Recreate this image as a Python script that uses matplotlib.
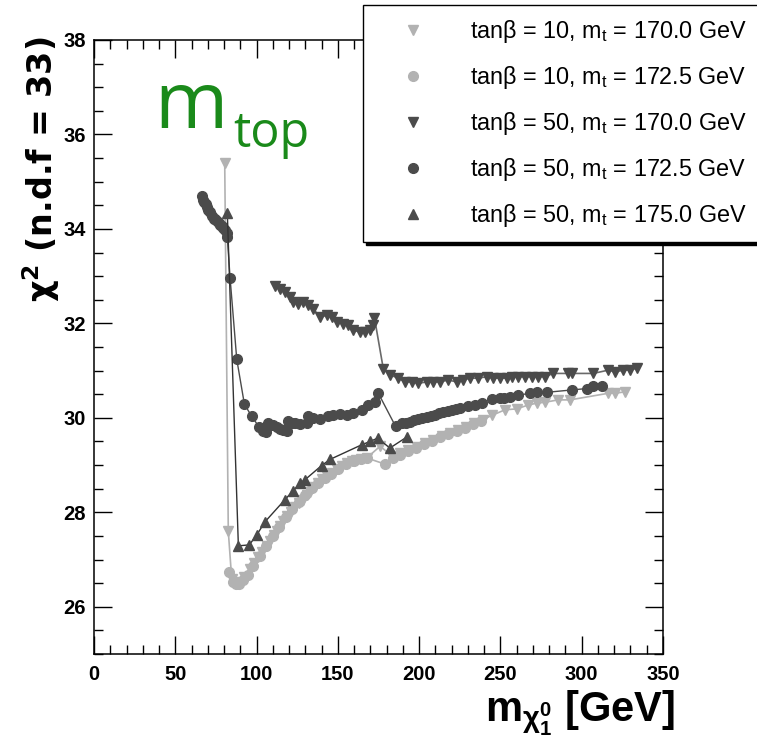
import numpy as np
import matplotlib
matplotlib.use("Agg")
import matplotlib.pyplot as plt
from matplotlib.ticker import MultipleLocator

plt.rcParams['font.family'] = ['Liberation Sans', 'DejaVu Sans']
plt.rcParams['mathtext.fontset'] = 'custom'
plt.rcParams['mathtext.rm'] = 'Liberation Sans'

# tan(beta)=10, mt=170.0
x_10_170 = [80.4, 82.6, 84.7, 87.0, 89.5, 92.5, 96.0, 98.5, 100.9, 103.5, 106.4, 108.5, 110.7, 112.5,
            114.4, 116.5, 118.7, 121.0, 123.6, 126.0, 128.6, 130.8, 132.9, 135.3, 137.8, 140.5,
            143.3, 146.5, 149.5, 152.5, 155.6, 158.5, 161.0, 164.5, 167.8, 176.0, 183.0, 188.0,
            193.0, 198.5, 203.5, 208.6, 214.0, 219.0, 224.0, 229.0, 234.0, 239.0, 244.6, 252.8,
            260.0, 267.0, 272.3, 277.4, 285.5, 292.8, 316.4, 320.5, 326.6]
y_10_170 = [35.40, 27.60, 26.59, 26.50, 26.52, 26.62, 26.80, 26.92, 27.05, 27.16, 27.28, 27.40, 27.52, 27.61,
            27.71, 27.81, 27.92, 28.01, 28.11, 28.19, 28.27, 28.36, 28.44, 28.53, 28.63, 28.70,
            28.76, 28.84, 28.91, 28.98, 29.05, 29.08, 29.10, 29.13, 29.15, 29.40, 29.20, 29.25,
            29.32, 29.39, 29.47, 29.54, 29.61, 29.68, 29.75, 29.81, 29.89, 29.96, 30.05, 30.17,
            30.19, 30.27, 30.31, 30.33, 30.38, 30.38, 30.52, 30.52, 30.55]

# tan(beta)=10, mt=172.5
x_10_172 = [83.3, 85.5, 87.3, 89.0, 91.5, 94.5, 98.0, 102.0, 106.0, 110.0, 114.0, 118.0, 122.0,
            126.0, 130.0, 134.0, 138.0, 142.0, 146.0, 150.0, 155.0, 160.0, 164.0, 167.8, 179.0,
            184.0, 188.5, 193.0, 198.0, 203.0, 208.0, 213.0, 218.0, 223.0, 228.0, 233.0, 238.0]
y_10_172 = [26.74, 26.52, 26.48, 26.49, 26.56, 26.68, 26.86, 27.08, 27.28, 27.49, 27.69, 27.89, 28.06,
            28.22, 28.37, 28.51, 28.62, 28.72, 28.82, 28.92, 29.02, 29.08, 29.12, 29.15, 29.02,
            29.15, 29.22, 29.30, 29.37, 29.45, 29.52, 29.59, 29.66, 29.73, 29.79, 29.87, 29.94]

# tan(beta)=50, mt=170.0
x_50_170 = [111.3, 114.4, 117.5, 120.6, 122.6, 125.7, 128.7, 131.8, 134.9, 139.0, 143.1, 146.2, 149.3,
            153.4, 156.4, 159.5, 163.6, 166.7, 169.8, 171.5, 172.5, 178.0, 182.0, 187.2, 191.3, 195.4,
            199.5, 204.6, 208.7, 212.8, 217.9, 223.1, 227.2, 231.3, 236.4, 241.6, 245.6, 249.7, 253.9,
            257.0, 261.0, 265.1, 269.2, 273.3, 277.4, 282.5, 291.8, 293.8, 307.1, 316.4, 320.5, 325.6,
            329.7, 333.8]
y_50_170 = [32.80, 32.73, 32.66, 32.55, 32.45, 32.41, 32.45, 32.38, 32.31, 32.13, 32.17, 32.13, 32.03,
            31.99, 31.96, 31.85, 31.82, 31.82, 31.85, 31.96, 32.12, 31.03, 30.91, 30.84, 30.76, 30.76,
            30.73, 30.76, 30.76, 30.76, 30.80, 30.76, 30.80, 30.84, 30.84, 30.87, 30.84, 30.84, 30.84,
            30.87, 30.87, 30.87, 30.87, 30.87, 30.87, 30.94, 30.94, 30.94, 30.94, 31.01, 30.97, 31.01,
            31.01, 31.05]

# tan(beta)=50, mt=172.5
x_50_172 = [66.2, 67.0, 67.8, 68.6, 69.4, 70.3, 71.2, 72.4, 73.5, 74.5, 75.5, 76.6, 77.6, 78.6, 79.6,
            80.6, 81.6, 82.0, 83.7, 87.8, 92.5, 97.0, 101.7, 104.0, 105.6, 106.8, 108.5, 110.3, 112.5,
            114.4, 116.5, 118.5, 119.5, 121.5, 123.6, 127.0, 130.8, 131.8, 135.0, 139.0, 144.1, 147.0,
            151.3, 155.4, 159.5, 164.7, 168.7, 172.8, 174.9, 185.5, 189.3, 192.0, 194.4, 197.0, 199.5,
            202.0, 204.6, 207.0, 209.8, 212.5, 214.9, 217.5, 220.0, 222.5, 225.1, 230.2, 234.4, 238.5,
            244.6, 249.7, 252.5, 255.9, 261.0, 268.2, 272.3, 278.5, 293.8, 303.1, 307.1, 312.3]
y_50_172 = [34.69, 34.62, 34.57, 34.52, 34.47, 34.41, 34.35, 34.27, 34.22, 34.20, 34.17, 34.12, 34.09,
            34.06, 34.01, 33.97, 33.92, 33.82, 32.96, 31.24, 30.29, 30.03, 29.80, 29.72, 29.69, 29.89,
            29.85, 29.85, 29.80, 29.76, 29.75, 29.73, 29.94, 29.90, 29.90, 29.87, 29.89, 30.04, 30.00,
            29.98, 30.04, 30.06, 30.08, 30.06, 30.10, 30.17, 30.27, 30.34, 30.52, 29.82, 29.89, 29.90,
            29.92, 29.95, 29.97, 29.99, 30.01, 30.04, 30.06, 30.10, 30.13, 30.15, 30.17, 30.18, 30.20,
            30.24, 30.27, 30.32, 30.39, 30.41, 30.43, 30.45, 30.48, 30.52, 30.54, 30.54, 30.59, 30.62,
            30.68, 30.68]

# tan(beta)=50, mt=175.0
x_50_175 = [82.0, 88.8, 95.5, 100.1, 105.2, 117.5, 122.6, 126.7, 129.8, 140.0, 145.2, 164.7, 169.8,
            174.5, 182.0, 192.7]
y_50_175 = [34.34, 27.29, 27.31, 27.52, 27.80, 28.27, 28.46, 28.61, 28.69, 28.99, 29.12, 29.43, 29.50,
            29.57, 29.36, 29.60]

light = '#b2b2b2'
dark = '#4b4b4b'

fig = plt.figure(figsize=(7.57, 7.47), dpi=100)
ax = fig.add_axes([0.1242, 0.1245, 0.7516, 0.822])

ax.plot(x_10_170, y_10_170, color=light, lw=1.2, marker='v', ms=7, mec=light, mfc=light,
        label=r'tanβ = 10, m$_\mathregular{t}$ = 170.0 GeV')
ax.plot(x_10_172, y_10_172, color=light, lw=1.2, marker='o', ms=7, mec=light, mfc=light,
        label=r'tanβ = 10, m$_\mathregular{t}$ = 172.5 GeV')
ax.plot(x_50_170, y_50_170, color='#6a6a6a', lw=1.2, marker='v', ms=7, mec=dark, mfc=dark,
        label=r'tanβ = 50, m$_\mathregular{t}$ = 170.0 GeV')
ax.plot(x_50_172, y_50_172, color=dark, lw=1.0, marker='o', ms=7, mec=dark, mfc=dark,
        label=r'tanβ = 50, m$_\mathregular{t}$ = 172.5 GeV')
ax.plot(x_50_175, y_50_175, color='#333333', lw=1.0, marker='^', ms=7, mec=dark, mfc=dark,
        label=r'tanβ = 50, m$_\mathregular{t}$ = 175.0 GeV')

ax.set_xlim(0, 350)
ax.set_ylim(25, 38)
ax.xaxis.set_major_locator(MultipleLocator(50))
ax.xaxis.set_minor_locator(MultipleLocator(10))
ax.yaxis.set_major_locator(MultipleLocator(2))
ax.yaxis.set_minor_locator(MultipleLocator(0.5))
ax.tick_params(which='both', direction='in', top=True, right=True, width=1.0)
ax.tick_params(which='major', length=13)
ax.tick_params(which='minor', length=6.5)
ax.tick_params(axis='x', pad=8)
ax.tick_params(axis='y', pad=6)
for lab in ax.get_xticklabels() + ax.get_yticklabels():
    lab.set_fontweight('bold')
    lab.set_fontsize(14.5)
for s in ax.spines.values():
    s.set_linewidth(1.1)

ax.set_xlabel(r'm$_{\mathregular{\chi}^{\mathregular{0}}_{\mathregular{1}}}$ [GeV]',
              fontsize=30, fontweight='bold', loc='right')
ax.xaxis.set_label_coords(1.021, -0.055)
ax.set_ylabel(r'$\mathregular{\chi}^{\mathregular{2}}$ (n.d.f = 33)', fontsize=24,
              fontweight='bold', family='DejaVu Sans')
ax.yaxis.set_label_coords(-0.056, 0.79)

fig.text(154 / 757, 1 - 128 / 747, 'm', fontsize=57, color='#1a8a1a', family='Open Sans',
         ha='left', va='baseline')
fig.text(233 / 757, 1 - 147 / 747, 'top', fontsize=35, color='#1a8a1a', family='Open Sans',
         ha='left', va='baseline')

leg = fig.legend(loc='upper right', bbox_to_anchor=(760 / 757, 1 - 5 / 747), fontsize=16.8,
                 frameon=True, fancybox=False, shadow={'color': 'black', 'alpha': 1},
                 edgecolor='black', framealpha=1, handlelength=3.2, handletextpad=0.85,
                 labelspacing=0.82, borderpad=0.55, borderaxespad=0)
leg.get_frame().set_linewidth(1.0)
for h in leg.legend_handles:
    h.set_linestyle('none')

fig.savefig('out.png', dpi=100)
